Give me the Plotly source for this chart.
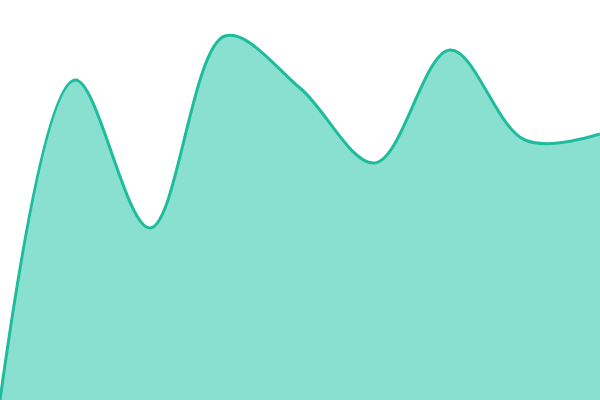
import plotly.graph_objects as go

x_vals = [0, 75, 150, 225, 300, 375, 450, 525, 600]
y_vals = [0, 320, 172, 364, 312, 237, 350, 260, 266]

fig = go.Figure()
fig.add_trace(go.Scatter(x=x_vals, y=y_vals, mode='lines',
                         line=dict(color='#1dbc9c', width=3, shape='spline', smoothing=1),
                         fill='tozeroy', fillcolor='#8ae0d0'))
fig.update_layout(width=600, height=400, margin=dict(l=0, r=0, t=0, b=0),
                  paper_bgcolor='white', plot_bgcolor='white', showlegend=False)
fig.update_xaxes(visible=False, range=[0, 600])
fig.update_yaxes(visible=False, range=[0, 400])
# drop the default body margin so the chart fills the window
fig.write_html("out.html", post_script="document.body.style.margin='0';",
               config={'displayModeBar': False})
